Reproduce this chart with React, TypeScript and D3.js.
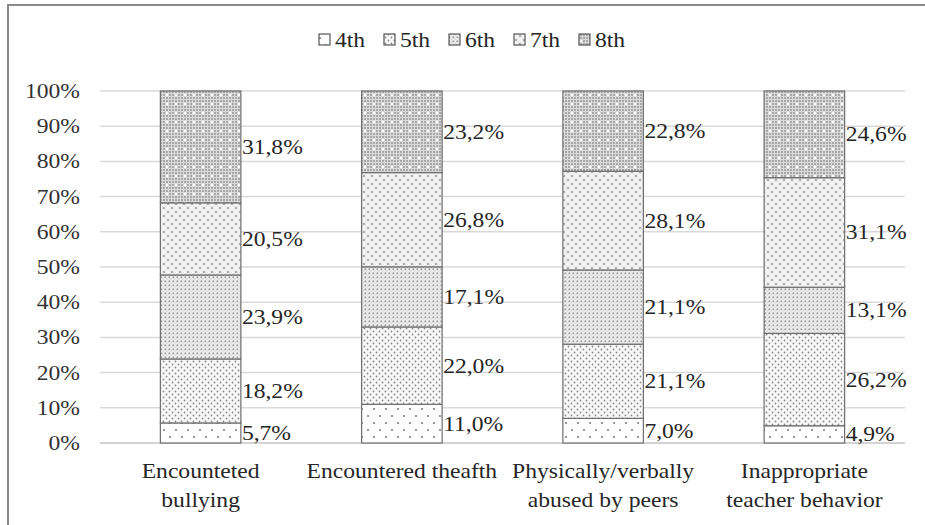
import React from "react";
import * as d3 from "d3";

const categories = ["Encounteted bullying", "Encountered theafth", "Physically/verbally abused by peers", "Inappropriate teacher behavior"];
const categoryLines = [["Encounteted", "bullying"], ["Encountered theafth"], ["Physically/verbally", "abused by peers"], ["Inappropriate", "teacher behavior"]];
const grades = ["4th", "5th", "6th", "7th", "8th"];
const grade4 = [5.7, 11.0, 7.0, 4.9];
const grade5 = [18.2, 22.0, 21.1, 26.2];
const grade6 = [23.9, 17.1, 21.1, 13.1];
const grade7 = [20.5, 26.8, 28.1, 31.1];
const grade8 = [31.8, 23.2, 22.8, 24.6];
const yTicks = [0, 0.1, 0.2, 0.3, 0.4, 0.5, 0.6, 0.7, 0.8, 0.9, 1.0];

const W = 925, H = 525;
const SX = 1.18;
const FONT = "'Liberation Serif', 'Times New Roman', serif";

const T = ({ x, y, anchor = "start", fill = "#262626", size = 20, children }: any) => (
  <text transform={`translate(${x},${y}) scale(${SX},1)`} textAnchor={anchor} fill={fill} fontSize={size} fontFamily={FONT}>{children}</text>
);

export default function App() {
  const series = [grade4, grade5, grade6, grade7, grade8];
  const rows = categories.map((c, i) => {
    const r: any = { cat: c };
    grades.forEach((g, k) => (r[g] = series[k][i]));
    return r;
  });
  const stack = d3.stack().keys(grades).offset(d3.stackOffsetExpand)(rows as any);
  const x = d3.scaleBand().domain(categories).range([100, 905]).paddingInner(0.6).paddingOuter(0.3);
  const y = d3.scaleLinear().domain([0, 1]).range([443, 91]);
  const fmt = (v: number) => d3.format(".1f")(v).replace(".", ",") + "%";
  const patIds = grades.map((_, k) => `pat${k}`);

  return (
    <svg width={W} height={H} style={{ position: "absolute", left: 0, top: 0, background: "#fff" }}>
      <defs>
        <pattern id="pat0" width="12" height="14" patternUnits="userSpaceOnUse">
          <rect width="12" height="14" fill="#fff" />
          <circle cx="2" cy="3" r="1" fill="#777" />
          <circle cx="8" cy="10" r="1" fill="#777" />
        </pattern>
        <pattern id="pat1" width="6" height="6" patternUnits="userSpaceOnUse">
          <rect width="6" height="6" fill="#f8f8f8" />
          <circle cx="1.5" cy="1.5" r="0.9" fill="#888" />
          <circle cx="4.5" cy="4.5" r="0.9" fill="#888" />
        </pattern>
        <pattern id="pat2" width="4" height="4" patternUnits="userSpaceOnUse">
          <rect width="4" height="4" fill="#ececec" />
          <rect x="0.5" y="0.5" width="1.6" height="1.6" fill="#999" />
          <rect x="2.5" y="2.5" width="1" height="1" fill="#c4c4c4" />
        </pattern>
        <pattern id="pat3" width="8" height="8" patternUnits="userSpaceOnUse">
          <rect width="8" height="8" fill="#b0b0b0" />
          <circle cx="0" cy="0" r="2.9" fill="#f4f4f4" />
          <circle cx="8" cy="0" r="2.9" fill="#f4f4f4" />
          <circle cx="0" cy="8" r="2.9" fill="#f4f4f4" />
          <circle cx="8" cy="8" r="2.9" fill="#f4f4f4" />
          <circle cx="4" cy="4" r="2.9" fill="#f4f4f4" />
        </pattern>
        <pattern id="pat4" width="9" height="9" patternUnits="userSpaceOnUse">
          <rect width="9" height="9" fill="#a8a8a8" />
          <rect x="0" y="0" width="9" height="1" fill="#dadada" />
          <rect x="0" y="3" width="9" height="1" fill="#dadada" />
          <rect x="0" y="6" width="9" height="1" fill="#dadada" />
          <rect x="0" y="0" width="1" height="9" fill="#dadada" />
          <rect x="3" y="0" width="1" height="9" fill="#dadada" />
          <rect x="6" y="0" width="1" height="9" fill="#dadada" />
          <circle cx="5" cy="5" r="1.2" fill="#fff" />
        </pattern>
      </defs>

      <rect x={8} y={5} width={W + 20} height={H + 20} fill="#fff" stroke="#8a8a8a" strokeWidth={2} />

      {/* legend */}
      {grades.map((g, k) => {
        const lx = 319 + k * 65;
        return (
          <g key={g}>
            <rect x={lx} y={34} width={11} height={11} fill={`url(#${patIds[k]})`} stroke="#555" strokeWidth={1.2} />
            <T x={lx + 16} y={47}>{g}</T>
          </g>
        );
      })}

      {/* gridlines */}
      {yTicks.map((t) => (
        <line key={t} x1={100} x2={905} y1={y(t)} y2={y(t)} stroke={t === 0 ? "#c4c4c4" : "#d9d9d9"} strokeWidth={1.5} />
      ))}
      {yTicks.map((t) => (
        <T key={"l" + t} x={80} y={y(t) + 7} anchor="end" fill="#333">{d3.format(".0%")(t)}</T>
      ))}

      {/* bars */}
      {stack.map((s: any, k: number) =>
        s.map((d: any, i: number) => {
          const bx = x(categories[i])!;
          return (
            <rect key={k + "-" + i} x={bx} y={y(d[1])} width={x.bandwidth()} height={y(d[0]) - y(d[1])}
              fill={`url(#${patIds[k]})`} stroke="#6e6e6e" strokeWidth={1.2} />
          );
        })
      )}

      {/* data labels */}
      {stack.map((s: any, k: number) =>
        s.map((d: any, i: number) => {
          const bx = x(categories[i])! + x.bandwidth();
          const cy = (y(d[0]) + y(d[1])) / 2;
          return (
            <T key={"t" + k + "-" + i} x={bx + 1} y={cy + 7}>{fmt(series[k][i])}</T>
          );
        })
      )}

      {/* category labels */}
      {categoryLines.map((lines, i) => {
        const cx = x(categories[i])! + x.bandwidth() / 2;
        return lines.map((ln, j) => (
          <T key={"c" + i + j} x={cx} y={478 + j * 29} anchor="middle">{ln}</T>
        ));
      })}
    </svg>
  );
}
